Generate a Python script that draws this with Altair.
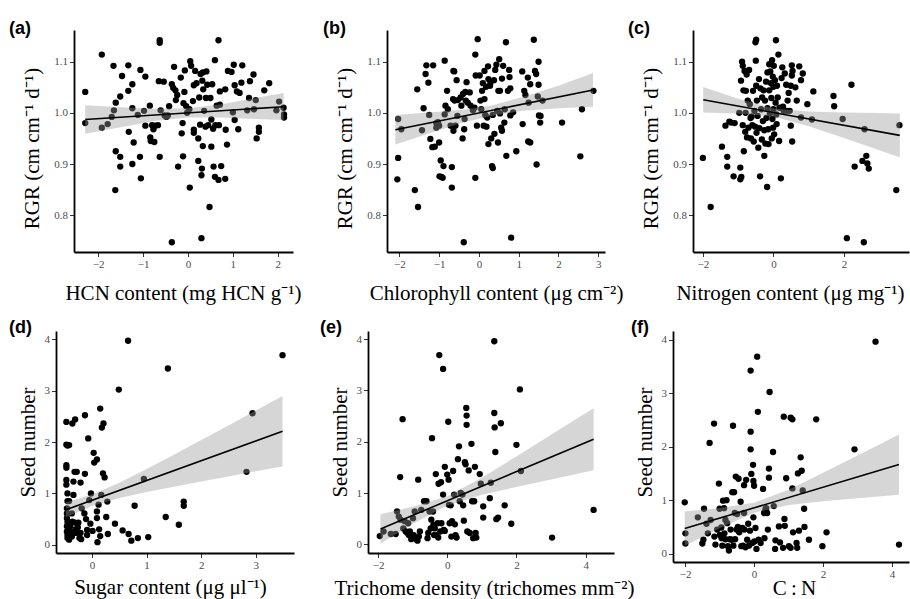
import altair as alt
import pandas as pd

# ---------------- data ----------------
A_PTS = [(-2.29,1.041),(-2.29,0.980),(-1.92,1.114),(-1.92,0.971),(-1.79,0.978),(-1.70,0.992),(-1.66,1.092),(-1.65,1.005),(-1.61,1.020),(-1.61,0.925),(-1.62,0.849),(-1.51,1.032),(-1.51,0.914),(-1.51,0.895),(-1.47,1.072),(-1.33,1.093),(-1.33,1.043),(-1.32,0.963),(-1.24,1.056),(-1.24,1.009),(-1.24,0.900),(-1.21,0.942),(-1.12,0.996),(-1.06,1.084),(-1.07,0.914),(-1.05,0.872),(-0.98,1.004),(-0.95,0.975),(-0.95,1.071),(-0.85,1.014),(-0.84,0.952),(-0.83,0.945),(-0.80,0.976),(-0.77,0.968),(-0.75,0.943),(-0.73,0.975),(-0.67,0.976),(-0.65,1.062),(-0.63,1.142),(-0.63,1.137),(-0.63,0.914),(-0.61,1.005),(-0.54,1.061),(-0.52,0.995),(-0.48,0.992),(-0.42,1.013),(-0.45,0.995),(-0.36,1.056),(-0.36,0.747),(-0.33,1.049),(-0.31,1.090),(-0.28,1.044),(-0.27,1.025),(-0.24,1.035),(-0.22,0.895),(-0.16,1.069),(-0.14,0.960),(-0.12,0.980),(-0.10,1.019),(-0.11,0.915),(-0.07,1.083),(-0.08,1.041),(-0.04,1.013),(-0.02,1.000),(0.03,1.007),(0.05,1.101),(0.07,1.092),(0.04,0.854),(0.11,1.023),(0.13,0.967),(0.13,0.961),(0.13,1.054),(0.16,1.082),(0.19,1.058),(0.23,0.950),(0.23,0.906),(0.25,1.030),(0.27,0.977),(0.28,1.076),(0.30,0.878),(0.30,0.755),(0.31,0.891),(0.33,0.935),(0.32,1.063),(0.33,1.079),(0.34,1.046),(0.36,1.004),(0.39,0.973),(0.40,1.029),(0.41,1.081),(0.43,1.055),(0.45,0.976),(0.48,0.816),(0.50,1.029),(0.52,0.934),(0.52,0.987),(0.54,1.056),(0.56,0.969),(0.57,0.895),(0.60,0.875),(0.60,1.103),(0.61,0.976),(0.64,1.014),(0.68,0.869),(0.68,1.142),(0.69,0.976),(0.71,1.016),(0.71,1.042),(0.74,0.896),(0.83,1.046),(0.83,0.871),(0.84,0.967),(0.87,0.938),(0.89,1.082),(0.97,1.080),(1.00,1.001),(1.02,1.094),(1.04,1.054),(1.04,0.986),(1.09,1.042),(1.12,0.968),(1.15,1.039),(1.19,1.059),(1.21,1.093),(1.32,1.005),(1.36,1.029),(1.38,1.062),(1.46,1.075),(1.47,1.007),(1.51,1.025),(1.53,0.950),(1.58,0.971),(1.58,0.963),(1.70,1.044),(1.81,1.058),(1.97,1.005),(2.03,1.022),(2.13,1.010),(2.14,0.997),(2.14,0.991)]
A_LINE_X = [-2.29, 2.13]
A_LINE_Y = [0.987, 1.012]
A_BAND_X = [-2.29, -1.5, -0.75, 0.0, 0.75, 1.5, 2.13]
A_BAND_LO = [0.959, 0.972, 0.984, 0.991, 0.991, 0.988, 0.986]
A_BAND_HI = [1.015, 1.011, 1.008, 1.009, 1.017, 1.029, 1.039]

B_PTS = [(-2.03,0.988),(-2.05,0.870),(-2.03,0.912),(-1.95,0.968),(-1.61,0.849),(-1.55,1.046),(-1.53,0.816),(-1.43,0.966),(-1.39,1.009),(-1.34,1.076),(-1.32,1.093),(-1.27,1.059),(-1.25,0.996),(-1.22,0.949),(-1.17,0.933),(-1.15,1.093),(-1.11,0.934),(-1.07,0.980),(-1.07,0.971),(-1.03,0.982),(-1.00,0.975),(-1.00,0.942),(-0.99,0.876),(-0.96,0.907),(-0.94,0.875),(-0.91,0.873),(-0.89,0.896),(-0.86,1.102),(-0.86,0.997),(-0.84,1.014),(-0.80,1.043),(-0.78,1.007),(-0.71,0.975),(-0.68,0.894),(-0.68,0.854),(-0.65,1.027),(-0.64,1.082),(-0.64,0.965),(-0.62,1.081),(-0.61,1.024),(-0.59,0.975),(-0.56,1.064),(-0.54,0.994),(-0.53,1.025),(-0.46,1.030),(-0.44,1.014),(-0.41,0.950),(-0.40,1.037),(-0.38,0.747),(-0.37,0.968),(-0.36,0.988),(-0.34,1.041),(-0.33,1.024),(-0.31,1.060),(-0.28,1.020),(-0.23,1.040),(-0.21,1.014),(-0.15,1.005),(-0.11,1.010),(-0.09,1.114),(-0.09,0.873),(-0.08,1.073),(-0.05,0.975),(-0.03,1.144),(0.02,1.073),(0.04,1.024),(0.06,1.007),(0.08,1.043),(0.10,1.058),(0.12,0.975),(0.14,1.027),(0.14,1.082),(0.16,0.996),(0.18,1.051),(0.19,0.973),(0.21,0.991),(0.23,1.091),(0.24,1.066),(0.24,0.939),(0.28,1.053),(0.29,1.059),(0.31,0.950),(0.33,0.896),(0.35,0.892),(0.35,0.996),(0.38,1.064),(0.39,0.959),(0.41,1.084),(0.44,1.094),(0.46,1.004),(0.48,0.942),(0.49,1.043),(0.51,1.105),(0.53,1.043),(0.53,0.999),(0.56,0.971),(0.58,1.067),(0.58,0.965),(0.61,1.092),(0.64,0.981),(0.65,1.007),(0.68,1.138),(0.69,0.916),(0.73,1.043),(0.76,1.084),(0.77,1.070),(0.79,0.995),(0.79,1.048),(0.81,0.756),(0.86,1.001),(0.94,0.925),(1.09,1.081),(1.10,0.978),(1.14,1.043),(1.17,1.035),(1.23,1.069),(1.24,0.944),(1.29,1.056),(1.29,0.942),(1.25,1.020),(1.38,1.143),(1.41,1.082),(1.44,1.076),(1.45,0.899),(1.48,1.032),(1.50,1.100),(1.50,1.055),(1.51,0.995),(1.55,0.994),(1.54,0.981),(1.60,1.024),(2.09,0.981),(2.55,0.915),(2.59,1.007),(2.88,1.043)]
B_LINE_X = [-2.1, 2.87]
B_LINE_Y = [0.967, 1.0446]
B_BAND_X = [-2.1, -1.2, -0.4, 0.3, 1.1, 2.0, 2.87]
B_BAND_LO = [0.938, 0.961, 0.981, 0.994, 1.004, 1.009, 1.012]
B_BAND_HI = [0.996, 1.001, 1.006, 1.014, 1.031, 1.053, 1.078]

C_PTS = [(-2.00,0.912),(-1.78,0.816),(-1.46,0.934),(-1.36,0.975),(-1.31,0.914),(-1.31,0.895),(-1.25,0.983),(-1.20,0.981),(-1.13,0.876),(-1.10,0.980),(-0.97,1.000),(-0.94,0.893),(-0.94,0.870),(-0.91,0.875),(-0.92,1.063),(-0.89,1.100),(-0.87,1.092),(-0.87,0.976),(-0.85,1.044),(-0.84,0.925),(-0.82,1.082),(-0.80,0.963),(-0.79,1.000),(-0.78,1.043),(-0.76,1.075),(-0.75,0.952),(-0.73,1.024),(-0.71,0.971),(-0.69,1.084),(-0.67,1.017),(-0.65,0.990),(-0.64,0.950),(-0.62,0.993),(-0.60,0.976),(-0.58,1.043),(-0.56,0.944),(-0.54,1.004),(-0.52,0.973),(-0.51,1.138),(-0.49,1.143),(-0.50,1.102),(-0.49,1.053),(-0.48,0.961),(-0.47,1.024),(-0.45,0.994),(-0.43,0.932),(-0.41,1.066),(-0.40,0.970),(-0.38,0.876),(-0.37,1.048),(-0.35,1.007),(-0.33,0.948),(-0.32,1.030),(-0.30,0.984),(-0.28,1.044),(-0.26,0.966),(-0.26,0.916),(-0.24,1.024),(-0.23,0.940),(-0.21,1.061),(-0.20,0.990),(-0.18,0.855),(-0.17,1.079),(-0.17,1.009),(-0.15,0.968),(-0.14,0.939),(-0.12,1.095),(-0.12,1.044),(-0.10,0.999),(-0.09,1.081),(-0.07,1.058),(-0.06,1.029),(-0.05,0.950),(-0.04,1.103),(-0.03,0.988),(-0.02,1.071),(-0.01,0.971),(0.00,1.051),(0.00,1.007),(0.01,1.092),(0.02,0.958),(0.04,1.064),(0.06,1.020),(0.07,1.142),(0.08,0.997),(0.09,0.978),(0.10,1.053),(0.12,1.030),(0.14,1.114),(0.16,0.945),(0.17,1.010),(0.21,0.872),(0.23,1.068),(0.25,1.089),(0.27,1.012),(0.29,1.004),(0.32,1.077),(0.36,1.055),(0.38,1.004),(0.40,1.024),(0.43,1.039),(0.46,1.004),(0.49,1.053),(0.49,0.975),(0.52,1.093),(0.53,0.944),(0.52,1.073),(0.54,1.082),(0.62,1.050),(0.66,1.024),(0.73,1.091),(0.78,1.064),(0.78,0.991),(0.83,1.077),(0.96,1.017),(1.09,0.987),(1.13,1.042),(1.70,1.033),(1.72,1.013),(1.96,0.988),(2.21,1.055),(2.30,0.895),(2.52,0.906),(2.58,0.968),(2.63,0.916),(2.66,0.901),(2.70,0.891),(2.08,0.755),(2.56,0.747),(3.48,0.849),(3.57,0.976)]
C_LINE_X = [-1.99, 3.58]
C_LINE_Y = [1.0255, 0.956]
C_BAND_X = [-1.99, -1.0, 0.0, 1.0, 2.0, 3.0, 3.58]
C_BAND_LO = [1.0005, 0.9988, 0.9927, 0.9739, 0.9507, 0.9268, 0.913]
C_BAND_HI = [1.0505, 1.0274, 1.0087, 1.0025, 1.0007, 0.9996, 0.999]

D_PTS = [(-0.47,2.39),(-0.47,1.95),(-0.45,1.93),(-0.42,1.94),(-0.47,1.55),(-0.47,1.50),(-0.47,1.26),(-0.47,1.17),(-0.45,1.00),(-0.45,0.85),(-0.42,0.85),(-0.46,0.71),(-0.46,0.61),(-0.46,0.52),(-0.45,0.45),(-0.46,0.36),(-0.46,0.26),(-0.45,0.19),(-0.45,0.13),(-0.42,0.10),(-0.40,0.36),(-0.39,0.26),(-0.37,0.16),(-0.37,0.61),(-0.36,0.45),(-0.36,2.36),(-0.31,2.44),(-0.32,1.42),(-0.34,1.23),(-0.34,0.97),(-0.31,0.43),(-0.30,0.30),(-0.29,0.23),(-0.28,1.42),(-0.26,0.34),(-0.25,0.43),(-0.23,0.13),(-0.21,0.23),(-0.21,1.21),(-0.20,0.11),(-0.19,0.71),(-0.14,0.61),(-0.13,2.52),(-0.13,1.38),(-0.11,0.50),(-0.09,0.29),(-0.09,0.19),(-0.07,2.07),(-0.05,0.87),(-0.03,0.41),(-0.02,1.00),(0.01,0.27),(0.03,1.79),(0.04,1.60),(0.09,1.66),(0.09,0.65),(0.09,0.52),(0.10,0.05),(0.12,0.78),(0.13,0.30),(0.15,0.17),(0.15,2.65),(0.17,0.97),(0.18,2.28),(0.21,2.36),(0.20,1.39),(0.23,1.31),(0.26,0.54),(0.28,0.84),(0.29,0.21),(0.42,0.41),(0.49,3.02),(0.56,0.28),(0.66,3.97),(0.67,0.21),(0.72,0.08),(0.78,0.76),(0.84,0.13),(0.95,1.28),(1.03,0.15),(1.35,0.54),(1.39,3.43),(1.59,0.39),(1.68,0.84),(1.68,0.76),(2.83,1.42),(2.94,2.56),(3.49,3.69)]
D_LINE_X = [-0.48, 3.49]
D_LINE_Y = [0.68, 2.208]
D_BAND_X = [-0.48, 0.0, 0.5, 1.0, 1.5, 2.0, 2.5, 3.0, 3.49]
D_BAND_LO = [0.535, 0.754, 0.909, 1.027, 1.131, 1.232, 1.331, 1.429, 1.523]
D_BAND_HI = [0.825, 0.976, 1.205, 1.473, 1.753, 2.038, 2.323, 2.611, 2.893]

E_PTS = [(-1.95,0.16),(-1.84,0.25),(-1.63,0.20),(-1.49,0.20),(-1.45,0.64),(-1.40,0.54),(-1.36,1.31),(-1.35,0.48),(-1.29,2.44),(-1.27,0.31),(-1.23,0.45),(-1.20,0.25),(-1.15,0.22),(-1.13,0.41),(-1.11,0.18),(-1.08,0.25),(-1.04,0.10),(-0.99,0.51),(-0.97,0.18),(-0.94,0.64),(-0.89,0.10),(-0.86,0.07),(-0.84,1.26),(-0.82,0.15),(-0.79,0.25),(-0.75,0.67),(-0.67,0.84),(-0.60,0.84),(-0.57,0.12),(-0.55,0.22),(-0.51,0.64),(-0.48,0.31),(-0.46,0.48),(-0.44,2.07),(-0.41,0.64),(-0.40,0.38),(-0.38,0.18),(-0.36,0.31),(-0.33,1.37),(-0.31,0.18),(-0.28,0.41),(-0.26,0.13),(-0.25,1.18),(-0.23,3.69),(-0.20,0.25),(-0.18,1.21),(-0.17,0.41),(-0.12,0.97),(-0.12,3.42),(-0.10,0.28),(-0.07,1.51),(-0.07,0.26),(0.00,1.36),(0.03,2.39),(0.04,1.26),(0.05,0.77),(0.07,0.41),(0.10,0.76),(0.12,0.15),(0.14,0.45),(0.17,1.43),(0.20,0.97),(0.22,0.39),(0.24,0.18),(0.27,0.13),(0.31,1.66),(0.34,1.91),(0.36,0.84),(0.39,1.00),(0.44,0.97),(0.46,0.76),(0.48,0.46),(0.51,1.60),(0.53,1.56),(0.55,2.66),(0.56,2.51),(0.56,2.33),(0.58,0.25),(0.62,1.44),(0.65,0.22),(0.70,1.96),(0.72,0.84),(0.75,0.12),(0.78,0.84),(0.80,1.51),(0.82,0.22),(0.84,0.13),(0.94,1.37),(0.97,1.18),(1.04,0.74),(1.04,0.52),(1.23,0.90),(1.26,1.20),(1.36,3.96),(1.36,2.56),(1.37,2.28),(1.39,1.80),(1.42,0.49),(1.47,0.52),(1.55,2.36),(1.66,0.76),(1.85,0.40),(2.00,1.94),(2.10,3.02),(2.13,1.43),(3.03,0.13),(4.23,0.67)]
E_LINE_X = [-1.93, 4.23]
E_LINE_Y = [0.30, 2.049]
E_BAND_X = [-1.93, -1.0, 0.0, 1.0, 2.0, 3.0, 4.23]
E_BAND_LO = [0.013, 0.396, 0.758, 0.964, 1.119, 1.266, 1.444]
E_BAND_HI = [0.587, 0.732, 0.938, 1.300, 1.713, 2.134, 2.654]

F_PTS = [(-2.01,0.96),(-1.99,0.38),(-1.99,0.19),(-1.63,0.68),(-1.45,0.84),(-1.47,0.26),(-1.50,0.19),(-1.38,0.56),(-1.34,0.38),(-1.29,2.07),(-1.26,0.63),(-1.16,2.43),(-1.15,0.32),(-1.12,0.17),(-1.07,0.45),(-1.02,1.31),(-1.00,0.84),(-0.99,0.35),(-0.95,0.49),(-0.94,0.29),(-0.92,0.15),(-0.90,0.99),(-0.87,0.85),(-0.86,0.38),(-0.83,0.63),(-0.83,0.27),(-0.80,1.00),(-0.78,0.57),(-0.76,0.14),(-0.73,0.06),(-0.70,0.27),(-0.68,0.45),(-0.65,0.26),(-0.63,1.15),(-0.61,2.39),(-0.60,0.15),(-0.58,1.15),(-0.56,0.76),(-0.55,0.27),(-0.53,1.44),(-0.51,0.45),(-0.49,0.74),(-0.47,0.50),(-0.45,1.40),(-0.43,0.40),(-0.41,0.45),(-0.39,0.97),(-0.37,0.14),(-0.34,0.48),(-0.32,0.15),(-0.29,1.28),(-0.29,0.76),(-0.28,0.45),(-0.25,0.12),(-0.23,1.38),(-0.20,0.26),(-0.17,0.56),(-0.15,0.15),(-0.12,0.43),(-0.10,3.42),(-0.10,2.28),(-0.10,1.95),(-0.08,1.49),(-0.05,0.20),(-0.03,1.66),(-0.02,1.36),(-0.02,0.68),(0.00,1.27),(0.01,0.23),(0.04,0.48),(0.07,0.09),(0.09,3.68),(0.11,2.65),(0.13,0.26),(0.19,0.20),(0.26,1.21),(0.29,0.76),(0.30,0.29),(0.33,0.83),(0.35,0.85),(0.38,0.76),(0.40,0.45),(0.43,1.59),(0.43,1.42),(0.45,3.02),(0.55,1.90),(0.57,0.89),(0.61,0.09),(0.62,0.25),(0.72,0.51),(0.75,0.21),(0.84,0.11),(0.86,2.56),(0.88,0.65),(0.89,0.52),(0.93,1.41),(1.01,0.14),(1.06,0.11),(1.06,2.54),(1.11,2.51),(1.11,1.22),(1.13,0.40),(1.23,0.20),(1.25,0.11),(1.27,1.50),(1.30,0.43),(1.35,1.80),(1.38,1.55),(1.41,1.18),(1.45,0.84),(1.46,0.50),(1.59,0.26),(1.80,2.51),(1.98,0.14),(2.10,0.40),(2.91,1.95),(3.52,3.96),(4.20,0.17)]
F_LINE_X = [-2.01, 4.20]
F_LINE_Y = [0.47, 1.665]
F_BAND_X = [-2.01, -1.0, 0.0, 1.0, 2.0, 3.0, 4.2]
F_BAND_LO = [0.15, 0.475, 0.764, 0.908, 0.978, 1.038, 1.102]
F_BAND_HI = [0.79, 0.855, 0.952, 1.194, 1.51, 1.836, 2.228]

RGR_TICKS = [0.8, 0.9, 1.0, 1.1]
SEED_TICKS = [0, 1, 2, 3, 4]
RGR_TITLE = "RGR (cm cm\u207b\u00b9 d\u207b\u00b9)"
SEED_TITLE = "Seed number"

SERIF = "Liberation Serif"


def panel(pts, lx, ly, bx, blo, bhi, xdom, ydom, xticks, yticks, yfmt,
          xtitle, ytitle, label, label_dx, label_dy, w, h, xtitle_x, xtitle_y,
          ytitle_x, ytitle_y):
    pdf = pd.DataFrame(pts, columns=["x", "y"])
    ldf = pd.DataFrame({"x": lx, "y": ly})
    bdf = pd.DataFrame({"x": bx, "lo": blo, "hi": bhi})
    xs = alt.Scale(domain=xdom, nice=False, zero=False)
    ys = alt.Scale(domain=ydom, nice=False, zero=False)
    xax = alt.Axis(values=xticks, format="d", title=xtitle, titleX=xtitle_x,
                   titleY=xtitle_y, titleBaseline="alphabetic", titleAlign="center")
    yax = alt.Axis(values=yticks, format=yfmt, title=ytitle, titleX=ytitle_x,
                   titleY=ytitle_y, titleBaseline="alphabetic", titleAlign="center")
    pts_layer = alt.Chart(pdf).mark_circle(size=40, color="black", opacity=1).encode(
        x=alt.X("x:Q", scale=xs, axis=xax),
        y=alt.Y("y:Q", scale=ys, axis=yax),
    )
    band_layer = alt.Chart(bdf).mark_area(color="#999999", opacity=0.4).encode(
        x=alt.X("x:Q", scale=xs, axis=xax),
        y=alt.Y("lo:Q", scale=ys, axis=yax),
        y2="hi:Q",
    )
    line_layer = alt.Chart(ldf).mark_line(color="black", strokeWidth=1.6).encode(
        x=alt.X("x:Q", scale=xs, axis=xax),
        y=alt.Y("y:Q", scale=ys, axis=yax),
    )
    return alt.layer(pts_layer, band_layer, line_layer).properties(
        width=w, height=h,
        title=alt.TitleParams(text=label, anchor="start", frame="group", dx=label_dx,
                              dy=label_dy, offset=0, baseline="alphabetic",
                              font="Liberation Sans", fontSize=18, fontWeight="bold",
                              color="black"),
    )


def spacer(w, h):
    return alt.Chart(pd.DataFrame({"v": [0]})).mark_point(opacity=0).encode(
        x=alt.X("v:Q", axis=None), y=alt.Y("v:Q", axis=None)
    ).properties(width=w, height=h)


pa = panel(A_PTS, A_LINE_X, A_LINE_Y, A_BAND_X, A_BAND_LO, A_BAND_HI,
           [-2.54, 2.34], [0.728, 1.162], [-2, -1, 0, 1, 2], RGR_TICKS, ".1f",
           "HCN content (mg HCN g\u207b\u00b9)", RGR_TITLE, "(a)", -65, 22, 219, 222,
           109, 47, -36, 118)
pb = panel(B_PTS, B_LINE_X, B_LINE_Y, B_BAND_X, B_BAND_LO, B_BAND_HI,
           [-2.31, 3.17], [0.728, 1.162], [-2, -1, 0, 1, 2, 3], RGR_TICKS, ".1f",
           "Chlorophyll content (\u03bcg cm\u207b\u00b2)", RGR_TITLE, "(b)", -64, 22, 218, 222,
           109, 47, -36, 118)
pc = panel(C_PTS, C_LINE_X, C_LINE_Y, C_BAND_X, C_BAND_LO, C_BAND_HI,
           [-2.28, 3.84], [0.728, 1.162], [-2, 0, 2], RGR_TICKS, ".1f",
           "Nitrogen content (\u03bcg mg\u207b\u00b9)", RGR_TITLE, "(c)", -65, 22, 216, 222,
           97, 47, -36, 118)
pd_ = panel(D_PTS, D_LINE_X, D_LINE_Y, D_BAND_X, D_BAND_LO, D_BAND_HI,
            [-0.66, 3.70], [-0.16, 4.16], [0, 1, 2, 3], SEED_TICKS, "d",
            "Sugar content (\u03bcg \u03bcl\u207b\u00b9)", SEED_TITLE, "(d)", -47, 20, 238, 222,
            114, 40, -22, 111)
pe = panel(E_PTS, E_LINE_X, E_LINE_Y, E_BAND_X, E_BAND_LO, E_BAND_HI,
           [-2.29, 4.82], [-0.17, 4.16], [-2, 0, 2, 4], SEED_TICKS, "d",
           "Trichome density (trichomes mm\u207b\u00b2)", SEED_TITLE, "(e)", -48, 20, 246, 222,
           116, 41, -22, 111)
pf = panel(F_PTS, F_LINE_X, F_LINE_Y, F_BAND_X, F_BAND_LO, F_BAND_HI,
           [-2.35, 4.49], [-0.155, 4.16], [-2, 0, 2, 4], SEED_TICKS, "d",
           "C\u2009:\u2009N", SEED_TITLE, "(f)", -42, 20, 236, 231,
           121, 32, -22, 111)

row1 = alt.hconcat(spacer(73, 222), pa, spacer(94, 222), pb, spacer(88, 222), pc,
                   spacing=0, bounds="flush")
row2 = alt.hconcat(spacer(55, 222), pd_, spacer(74, 222), pe, spacer(59, 222), pf,
                   spacing=0, bounds="flush")

chart = alt.vconcat(row1, row2, spacing=14).properties(
    padding={"left": 0, "top": 19, "right": 0, "bottom": 0}
).configure(background="white").configure_view(
    stroke="transparent"
).configure_axis(
    grid=False,
    domainColor="black", domainWidth=1.8,
    tickColor="#333333", tickWidth=1, tickSize=4.5,
    labelColor="#4d4d4d", labelFont=SERIF, labelFontSize=11, labelPadding=2,
    labelFlush=False,
    titleColor="black", titleFont=SERIF, titleFontSize=21, titleFontWeight="normal",
)

chart.save("out.html", embed_options={"renderer": "svg", "actions": False})
